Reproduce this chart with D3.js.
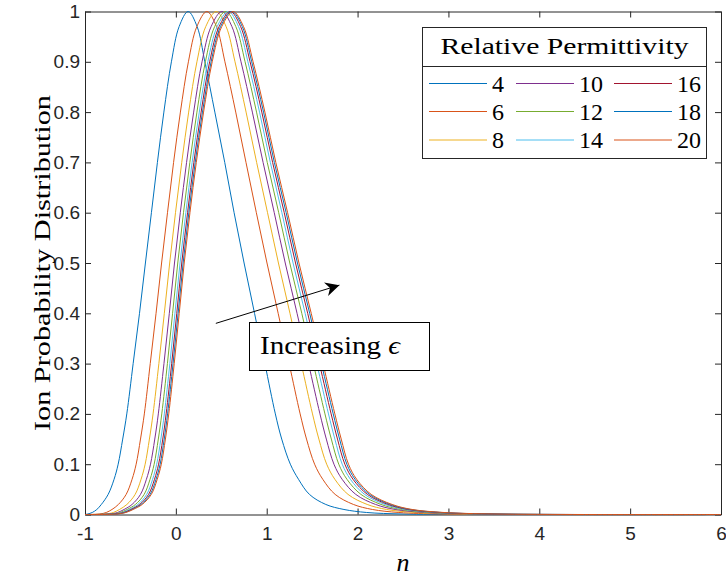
<!DOCTYPE html>
<html>
<head>
<meta charset="utf-8">
<script src="https://cdn.jsdelivr.net/npm/d3@7"></script>
<style>
  body { margin: 0; background: #fff; }
  svg { display: block; }
  .tick text { font-family: "Liberation Sans", Arial, sans-serif; font-size: 19px; fill: #262626; }
  .tick line, .domain { stroke: #262626; }
  .tex { font-family: "Liberation Serif", "DejaVu Serif", serif; fill: #000; }
</style>
</head>
<body>
<div id="chart"></div>
<script>
// y levels at which each curve was read (left flank, peak, right flank, tail end)
const levels = [0, 0.001, 0.004, 0.01, 0.02, 0.04, 0.07, 0.1, 0.15, 0.2, 0.3, 0.4, 0.5, 0.6, 0.7, 0.8, 0.9, 0.97, 1,
                0.97, 0.9, 0.8, 0.7, 0.6, 0.5, 0.4, 0.3, 0.2, 0.15, 0.1, 0.07, 0.04, 0.02, 0.01, 0.004, 0.001, 0, 0];

// n positions where each curve crosses those levels
const eps4  = [-1, -0.97, -0.92, -0.87, -0.82, -0.745, -0.68, -0.635, -0.585, -0.54, -0.47, -0.40, -0.335, -0.269, -0.203, -0.132, -0.049, 0.036, 0.135,
               0.234, 0.319, 0.429, 0.538, 0.641, 0.751, 0.866, 0.98, 1.095, 1.165, 1.26, 1.35, 1.47, 1.65, 1.85, 2.1, 2.5, 3.2, 6];
const eps6  = [-1, -0.837, -0.766, -0.703, -0.632, -0.547, -0.482, -0.437, -0.389, -0.347, -0.282, -0.218, -0.157, -0.092, -0.025, 0.05, 0.138, 0.231, 0.341,
               0.447, 0.54, 0.659, 0.772, 0.886, 1.003, 1.126, 1.247, 1.368, 1.438, 1.527, 1.617, 1.753, 1.954, 2.163, 2.454, 2.917, 3.742, 6];
const eps8  = [-1, -0.77, -0.689, -0.62, -0.539, -0.448, -0.383, -0.338, -0.291, -0.251, -0.187, -0.127, -0.068, -0.004, 0.065, 0.141, 0.232, 0.329, 0.444,
               0.553, 0.651, 0.773, 0.889, 1.009, 1.129, 1.256, 1.38, 1.504, 1.574, 1.66, 1.75, 1.895, 2.106, 2.319, 2.631, 3.125, 4.013, 6];
const eps10 = [-1, -0.73, -0.642, -0.57, -0.482, -0.389, -0.324, -0.279, -0.232, -0.193, -0.131, -0.072, -0.015, 0.049, 0.118, 0.196, 0.288, 0.388, 0.506,
               0.617, 0.717, 0.842, 0.96, 1.083, 1.204, 1.334, 1.46, 1.586, 1.656, 1.74, 1.83, 1.98, 2.198, 2.413, 2.738, 3.25, 4.175, 6];
const eps12 = [-1, -0.703, -0.612, -0.537, -0.445, -0.349, -0.284, -0.239, -0.193, -0.155, -0.093, -0.036, 0.021, 0.084, 0.154, 0.232, 0.325, 0.427, 0.548,
               0.66, 0.762, 0.888, 1.006, 1.132, 1.254, 1.386, 1.513, 1.641, 1.711, 1.793, 1.883, 2.037, 2.258, 2.475, 2.808, 3.333, 4.283, 6];
const eps14 = [-1, -0.684, -0.59, -0.513, -0.418, -0.321, -0.256, -0.211, -0.165, -0.127, -0.066, -0.01, 0.046, 0.11, 0.179, 0.258, 0.352, 0.455, 0.577,
               0.69, 0.793, 0.921, 1.04, 1.167, 1.29, 1.423, 1.551, 1.68, 1.75, 1.831, 1.921, 2.077, 2.302, 2.52, 2.859, 3.393, 4.361, 6];
const eps16 = [-1, -0.67, -0.573, -0.495, -0.398, -0.30, -0.235, -0.19, -0.144, -0.107, -0.046, 0.01, 0.065, 0.129, 0.198, 0.278, 0.372, 0.476, 0.599,
               0.713, 0.817, 0.946, 1.065, 1.193, 1.317, 1.451, 1.58, 1.709, 1.779, 1.86, 1.95, 2.108, 2.334, 2.553, 2.897, 3.438, 4.419, 6];
const eps18 = [-1, -0.659, -0.56, -0.481, -0.383, -0.283, -0.218, -0.173, -0.128, -0.091, -0.031, 0.025, 0.08, 0.143, 0.213, 0.293, 0.388, 0.492, 0.616,
               0.731, 0.835, 0.965, 1.084, 1.214, 1.338, 1.473, 1.602, 1.732, 1.802, 1.882, 1.972, 2.131, 2.36, 2.579, 2.926, 3.472, 4.464, 6];
const eps20 = [-1, -0.65, -0.55, -0.47, -0.37, -0.27, -0.205, -0.16, -0.115, -0.078, -0.018, 0.037, 0.092, 0.155, 0.225, 0.305, 0.40, 0.505, 0.63,
               0.745, 0.85, 0.98, 1.10, 1.23, 1.355, 1.49, 1.62, 1.75, 1.82, 1.90, 1.99, 2.15, 2.38, 2.6, 2.95, 3.5, 4.5, 6];

const permittivities = [4, 6, 8, 10, 12, 14, 16, 18, 20];
const seriesN = [eps4, eps6, eps8, eps10, eps12, eps14, eps16, eps18, eps20];
const colors = ["#0072BD", "#D95319", "#EDB120", "#7E2F8E", "#77AC30", "#4DBEEE", "#A2142F", "#0072BD", "#D95319"];

const xTicks = [-1, 0, 1, 2, 3, 4, 5, 6];
const yTicks = [0, 0.1, 0.2, 0.3, 0.4, 0.5, 0.6, 0.7, 0.8, 0.9, 1];

const width = 726, height = 580;
const plotLeft = 85, plotRight = 721, plotTop = 11.5, plotBottom = 514.5;

const svg = d3.select("#chart").append("svg")
    .attr("width", width)
    .attr("height", height);

const x = d3.scaleLinear().domain([-1, 6]).range([plotLeft, plotRight]);
const y = d3.scaleLinear().domain([0, 1]).range([plotBottom, plotTop]);

// axes, ticks point inward like matlab
svg.append("g")
    .attr("transform", `translate(0,${plotBottom})`)
    .call(d3.axisBottom(x).tickValues(xTicks).tickSizeInner(-6).tickSizeOuter(0).tickPadding(12)
        .tickFormat(d => d < 0 ? "-" + Math.abs(d) : d));
svg.append("g")
    .attr("transform", `translate(0,${plotTop})`)
    .call(d3.axisTop(x).tickValues(xTicks).tickSizeInner(-6).tickSizeOuter(0).tickFormat(""));
svg.append("g")
    .attr("transform", `translate(${plotLeft},0)`)
    .call(d3.axisLeft(y).tickValues(yTicks).tickSizeInner(-6).tickSizeOuter(0).tickPadding(5)
        .tickFormat(d => d));
svg.append("g")
    .attr("transform", `translate(${plotRight},0)`)
    .call(d3.axisRight(y).tickValues(yTicks).tickSizeInner(-6).tickSizeOuter(0).tickFormat(""));

svg.selectAll(".domain").attr("stroke-width", 1);

svg.append("clipPath").attr("id", "plot-clip")
    .append("rect")
    .attr("x", plotLeft).attr("y", plotTop - 1)
    .attr("width", plotRight - plotLeft).attr("height", plotBottom - plotTop + 2);

const line = d3.line()
    .x(d => x(d[0]))
    .y(d => y(d[1]))
    .curve(d3.curveCatmullRom.alpha(0.5));

svg.append("g")
    .attr("clip-path", "url(#plot-clip)")
    .selectAll("path")
    .data(seriesN)
    .enter()
    .append("path")
    .attr("fill", "none")
    .attr("stroke", (d, i) => colors[i])
    .attr("stroke-width", 1)
    .attr("d", d => line(d.map((n, k) => [n, levels[k]])));

// axis labels
svg.append("text")
    .attr("class", "tex")
    .attr("transform", `translate(50,${(plotTop + plotBottom) / 2}) rotate(-90)`)
    .attr("text-anchor", "middle")
    .attr("font-size", 24)
    .attr("textLength", 336)
    .attr("lengthAdjust", "spacingAndGlyphs")
    .text("Ion Probability Distribution");

svg.append("text")
    .attr("class", "tex")
    .attr("x", x(2.5))
    .attr("y", 571)
    .attr("text-anchor", "middle")
    .attr("font-size", 26)
    .attr("font-style", "italic")
    .text("n");

// legend
const legend = svg.append("g");
legend.append("rect")
    .attr("x", 422.5).attr("y", 27.5)
    .attr("width", 284).attr("height", 131)
    .attr("fill", "#fff")
    .attr("stroke", "#262626");
legend.append("line")
    .attr("x1", 422.5).attr("x2", 706.5)
    .attr("y1", 66.5).attr("y2", 66.5)
    .attr("stroke", "#262626");
legend.append("text")
    .attr("class", "tex")
    .attr("x", 564.5).attr("y", 54)
    .attr("text-anchor", "middle")
    .attr("font-size", 24)
    .attr("textLength", 248)
    .attr("lengthAdjust", "spacingAndGlyphs")
    .text("Relative Permittivity");

const colX = [429, 516, 614];
const rowY = [83.5, 111.5, 140];
permittivities.forEach((p, i) => {
    const cx = colX[Math.floor(i / 3)], cy = rowY[i % 3];
    legend.append("line")
        .attr("x1", cx).attr("x2", cx + 58)
        .attr("y1", cy).attr("y2", cy)
        .attr("stroke", colors[i]).attr("stroke-width", 1);
    legend.append("text")
        .attr("class", "tex")
        .attr("x", cx + 63).attr("y", cy + 8)
        .attr("font-size", 24)
        .text(p);
});

// annotation arrow and text box
const defs = svg.append("defs");
defs.append("marker")
    .attr("id", "head")
    .attr("viewBox", "0 0 10 10")
    .attr("refX", 10).attr("refY", 5)
    .attr("markerWidth", 14).attr("markerHeight", 14)
    .attr("markerUnits", "userSpaceOnUse")
    .attr("orient", "auto")
    .append("path")
    .attr("d", "M0,0 L10,5 L0,10 L3,5 Z")
    .attr("fill", "#000");

svg.append("line")
    .attr("x1", x(0.44)).attr("y1", y(0.38))
    .attr("x2", x(1.8)).attr("y2", y(0.456))
    .attr("stroke", "#000").attr("stroke-width", 1)
    .attr("marker-end", "url(#head)");

svg.append("rect")
    .attr("x", 249.5).attr("y", 322.5)
    .attr("width", 180).attr("height", 48)
    .attr("fill", "#fff")
    .attr("stroke", "#000");
const ann = svg.append("text")
    .attr("class", "tex")
    .attr("x", 260).attr("y", 354)
    .attr("font-size", 25)
    .attr("textLength", 140)
    .attr("lengthAdjust", "spacingAndGlyphs");
ann.append("tspan").text("Increasing ");
ann.append("tspan").attr("font-style", "italic").text("ϵ");
</script>
</body>
</html>
